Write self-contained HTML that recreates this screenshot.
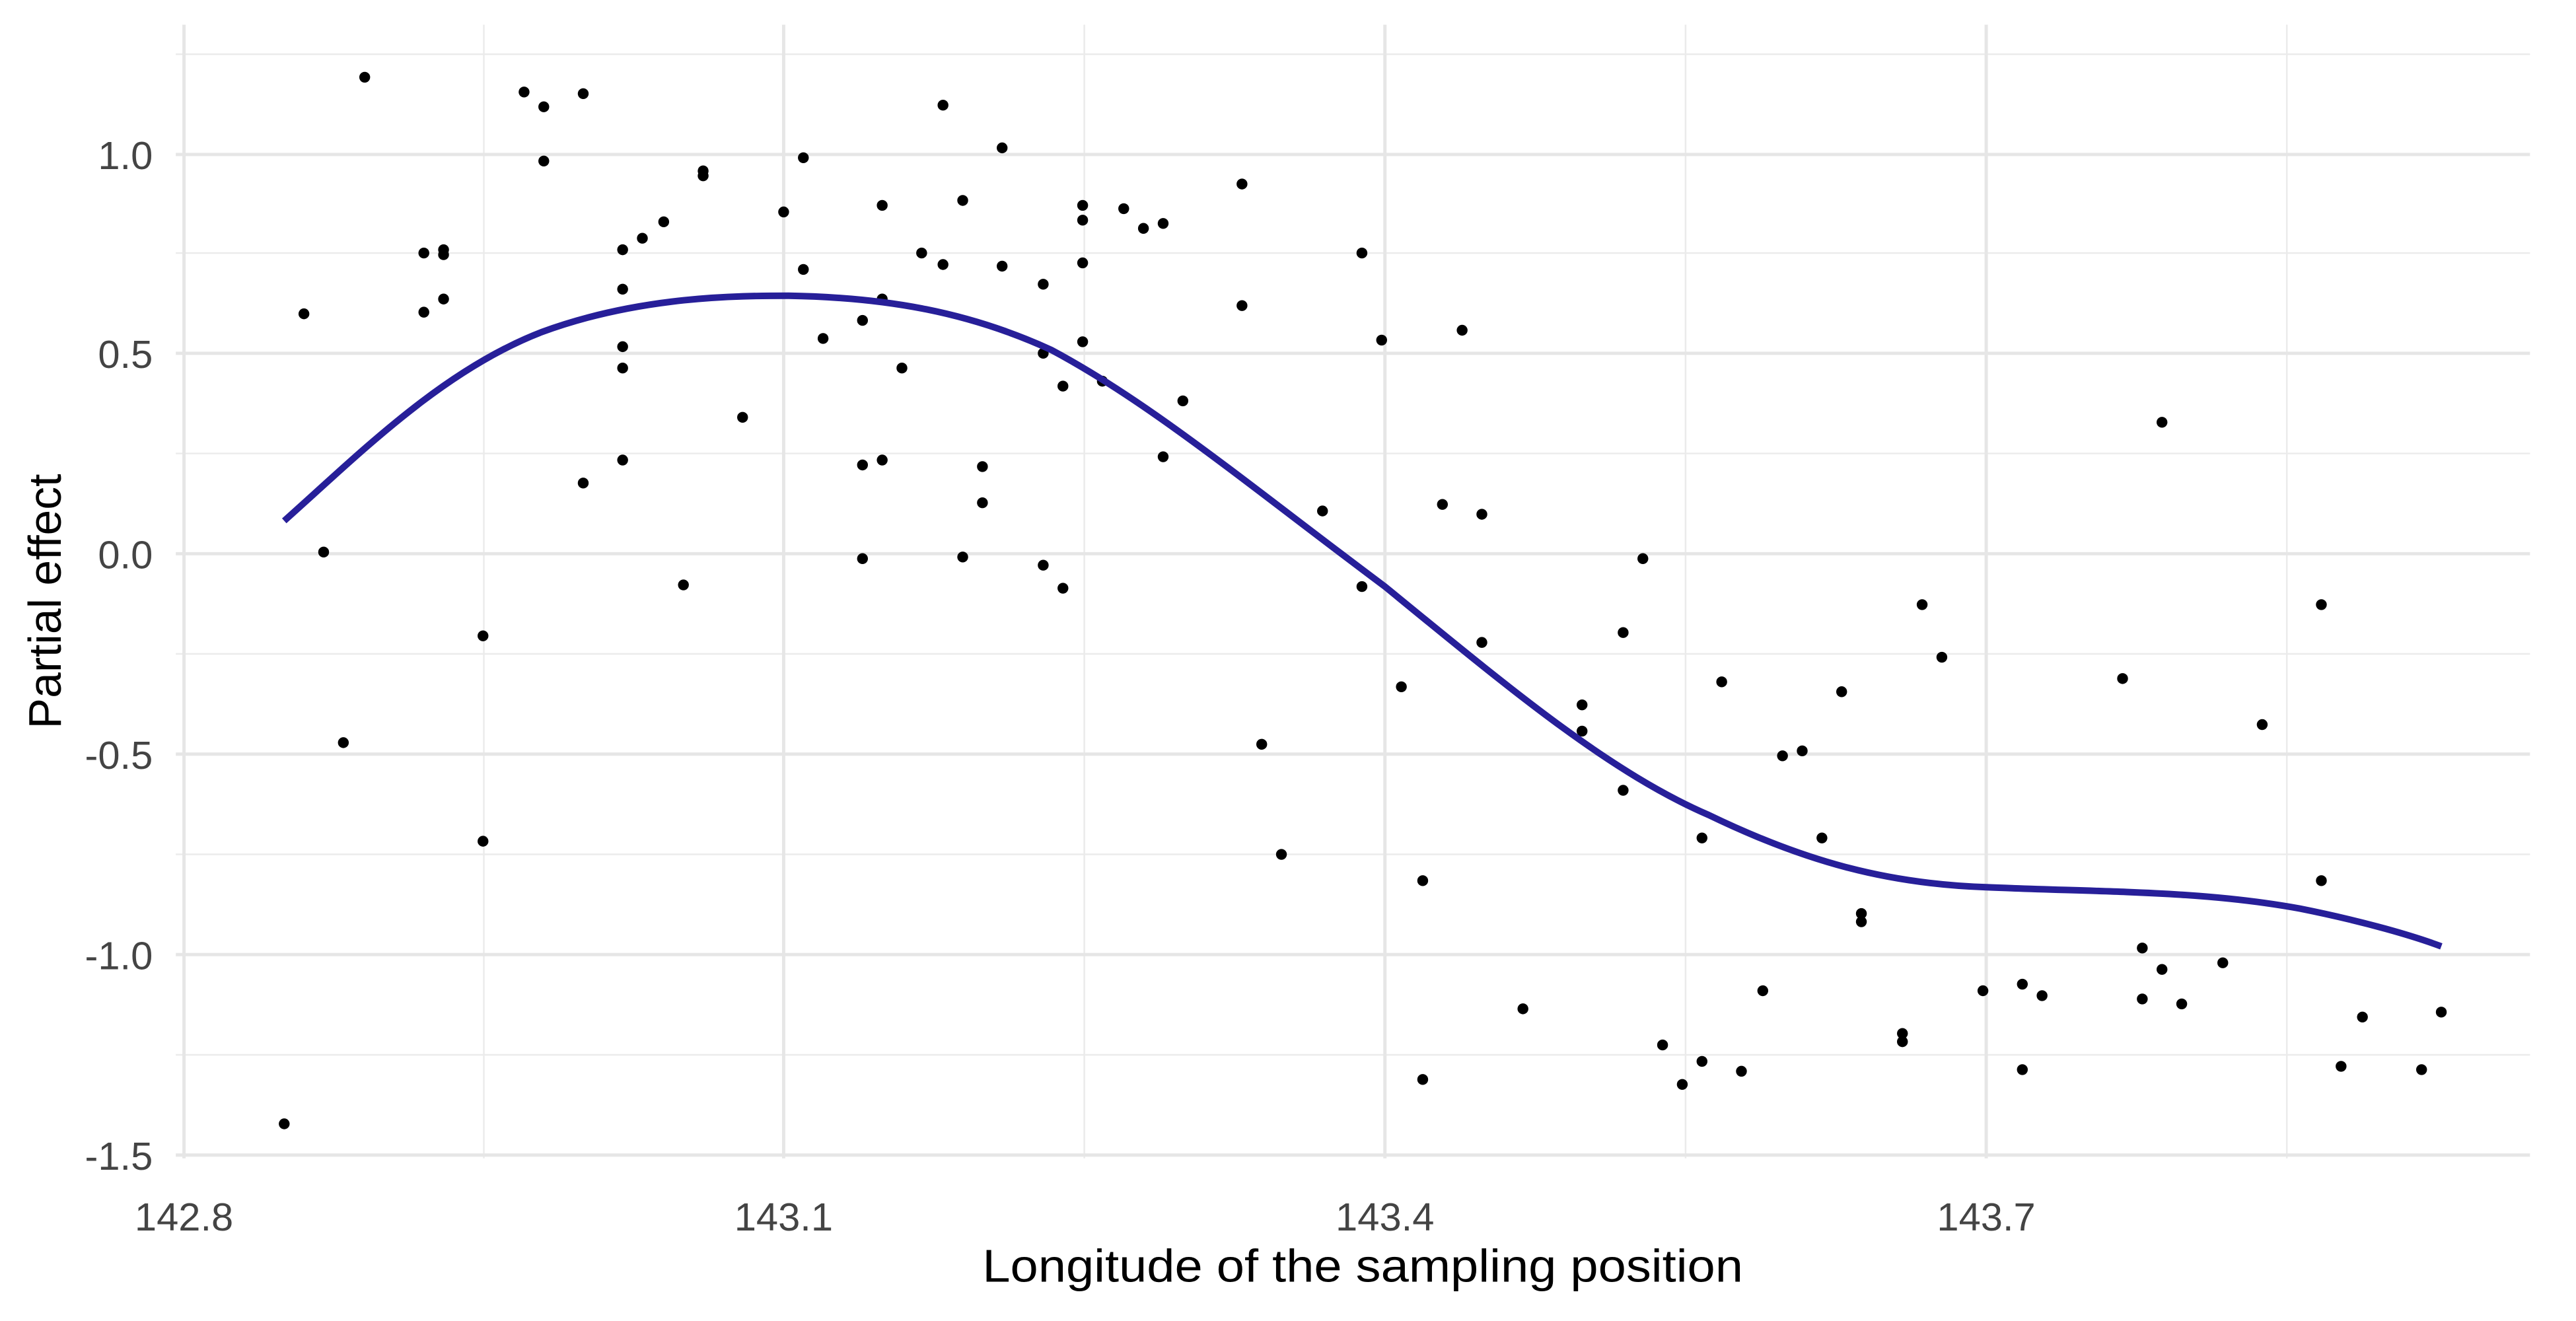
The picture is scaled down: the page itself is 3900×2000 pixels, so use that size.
<!DOCTYPE html>
<html><head><meta charset="utf-8"><style>html,body{margin:0;padding:0;background:#fff}svg{display:block}</style></head>
<body>
<svg width="3900" height="2000" viewBox="0 0 1568 804" preserveAspectRatio="none" xmlns="http://www.w3.org/2000/svg" font-family="Liberation Sans, Arial, sans-serif">
<rect width="1568" height="804" fill="#fff"/>
<g stroke="#ebebeb" stroke-width="1">
<line x1="294.5" y1="15" x2="294.5" y2="705"/><line x1="660" y1="15" x2="660" y2="705"/><line x1="1026" y1="15" x2="1026" y2="705"/><line x1="1392" y1="15" x2="1392" y2="705"/>
<line x1="107" y1="33" x2="1540" y2="33"/><line x1="107" y1="154" x2="1540" y2="154"/><line x1="107" y1="276" x2="1540" y2="276"/><line x1="107" y1="398" x2="1540" y2="398"/><line x1="107" y1="520" x2="1540" y2="520"/><line x1="107" y1="642" x2="1540" y2="642"/>
</g>
<g stroke="#e6e6e6" stroke-width="2">
<line x1="112" y1="15" x2="112" y2="705"/><line x1="477" y1="15" x2="477" y2="705"/><line x1="843" y1="15" x2="843" y2="705"/><line x1="1209" y1="15" x2="1209" y2="705"/>
<line x1="107" y1="94" x2="1540" y2="94"/><line x1="107" y1="215" x2="1540" y2="215"/><line x1="107" y1="337" x2="1540" y2="337"/><line x1="107" y1="459" x2="1540" y2="459"/><line x1="107" y1="581" x2="1540" y2="581"/><line x1="107" y1="703" x2="1540" y2="703"/>
</g>
<g fill="#000">
<circle cx="222" cy="47" r="3.3"/><circle cx="319" cy="56" r="3.3"/><circle cx="331" cy="65" r="3.3"/><circle cx="355" cy="57" r="3.3"/><circle cx="331" cy="98" r="3.3"/><circle cx="185" cy="191" r="3.3"/><circle cx="258" cy="154" r="3.3"/><circle cx="258" cy="190" r="3.3"/><circle cx="270" cy="152" r="3.3"/><circle cx="270" cy="155" r="3.3"/><circle cx="270" cy="182" r="3.3"/><circle cx="379" cy="152" r="3.3"/><circle cx="391" cy="145" r="3.3"/><circle cx="404" cy="135" r="3.3"/><circle cx="428" cy="104" r="3.3"/><circle cx="428" cy="107" r="3.3"/><circle cx="379" cy="176" r="3.3"/><circle cx="379" cy="211" r="3.3"/><circle cx="379" cy="224" r="3.3"/><circle cx="355" cy="294" r="3.3"/><circle cx="379" cy="280" r="3.3"/><circle cx="197" cy="336" r="3.3"/><circle cx="209" cy="452" r="3.3"/><circle cx="294" cy="387" r="3.3"/><circle cx="294" cy="512" r="3.3"/><circle cx="416" cy="356" r="3.3"/><circle cx="452" cy="254" r="3.3"/><circle cx="477" cy="129" r="3.3"/><circle cx="489" cy="96" r="3.3"/><circle cx="489" cy="164" r="3.3"/><circle cx="501" cy="206" r="3.3"/><circle cx="574" cy="64" r="3.3"/><circle cx="610" cy="90" r="3.3"/><circle cx="586" cy="122" r="3.3"/><circle cx="537" cy="125" r="3.3"/><circle cx="561" cy="154" r="3.3"/><circle cx="574" cy="161" r="3.3"/><circle cx="610" cy="162" r="3.3"/><circle cx="635" cy="173" r="3.3"/><circle cx="659" cy="125" r="3.3"/><circle cx="659" cy="134" r="3.3"/><circle cx="659" cy="160" r="3.3"/><circle cx="684" cy="127" r="3.3"/><circle cx="696" cy="139" r="3.3"/><circle cx="708" cy="136" r="3.3"/><circle cx="756" cy="112" r="3.3"/><circle cx="756" cy="186" r="3.3"/><circle cx="537" cy="182" r="3.3"/><circle cx="525" cy="195" r="3.3"/><circle cx="549" cy="224" r="3.3"/><circle cx="635" cy="215" r="3.3"/><circle cx="659" cy="208" r="3.3"/><circle cx="647" cy="235" r="3.3"/><circle cx="671" cy="232" r="3.3"/><circle cx="720" cy="244" r="3.3"/><circle cx="708" cy="278" r="3.3"/><circle cx="598" cy="284" r="3.3"/><circle cx="598" cy="306" r="3.3"/><circle cx="537" cy="280" r="3.3"/><circle cx="525" cy="283" r="3.3"/><circle cx="525" cy="340" r="3.3"/><circle cx="586" cy="339" r="3.3"/><circle cx="635" cy="344" r="3.3"/><circle cx="647" cy="358" r="3.3"/><circle cx="768" cy="453" r="3.3"/><circle cx="780" cy="520" r="3.3"/><circle cx="805" cy="311" r="3.3"/><circle cx="829" cy="154" r="3.3"/><circle cx="841" cy="207" r="3.3"/><circle cx="829" cy="357" r="3.3"/><circle cx="853" cy="418" r="3.3"/><circle cx="866" cy="536" r="3.3"/><circle cx="866" cy="657" r="3.3"/><circle cx="878" cy="307" r="3.3"/><circle cx="890" cy="201" r="3.3"/><circle cx="902" cy="313" r="3.3"/><circle cx="902" cy="391" r="3.3"/><circle cx="927" cy="614" r="3.3"/><circle cx="963" cy="429" r="3.3"/><circle cx="963" cy="445" r="3.3"/><circle cx="988" cy="385" r="3.3"/><circle cx="988" cy="481" r="3.3"/><circle cx="1000" cy="340" r="3.3"/><circle cx="1012" cy="636" r="3.3"/><circle cx="1024" cy="660" r="3.3"/><circle cx="1036" cy="510" r="3.3"/><circle cx="1036" cy="646" r="3.3"/><circle cx="1048" cy="415" r="3.3"/><circle cx="1060" cy="652" r="3.3"/><circle cx="1073" cy="603" r="3.3"/><circle cx="1085" cy="460" r="3.3"/><circle cx="1097" cy="457" r="3.3"/><circle cx="1109" cy="510" r="3.3"/><circle cx="1121" cy="421" r="3.3"/><circle cx="1133" cy="556" r="3.3"/><circle cx="1133" cy="561" r="3.3"/><circle cx="1158" cy="629" r="3.3"/><circle cx="1158" cy="634" r="3.3"/><circle cx="1170" cy="368" r="3.3"/><circle cx="1182" cy="400" r="3.3"/><circle cx="1207" cy="603" r="3.3"/><circle cx="1231" cy="599" r="3.3"/><circle cx="1231" cy="651" r="3.3"/><circle cx="1243" cy="606" r="3.3"/><circle cx="1292" cy="413" r="3.3"/><circle cx="1304" cy="577" r="3.3"/><circle cx="1304" cy="608" r="3.3"/><circle cx="1316" cy="590" r="3.3"/><circle cx="1316" cy="257" r="3.3"/><circle cx="1328" cy="611" r="3.3"/><circle cx="1353" cy="586" r="3.3"/><circle cx="1377" cy="441" r="3.3"/><circle cx="1413" cy="368" r="3.3"/><circle cx="1413" cy="536" r="3.3"/><circle cx="1425" cy="649" r="3.3"/><circle cx="1438" cy="619" r="3.3"/><circle cx="1474" cy="651" r="3.3"/><circle cx="1486" cy="616" r="3.3"/><circle cx="173" cy="684" r="3.3"/>
</g>
<path d="M173,317 C220,275 270,225 330,202 C390,180 450,180 480,180 C540,181 590,190 640,213 C700,245 760,295 843,357 C920,420 980,470 1040,496 C1100,525 1150,538 1209,540 C1280,543 1340,542 1400,553 C1440,561 1470,570 1486,576" fill="none" stroke="#271f99" stroke-width="4" stroke-linejoin="round"/>
<g fill="#444" font-size="24" text-anchor="end">
<text x="93" y="103">1.0</text><text x="93" y="224">0.5</text><text x="93" y="346">0.0</text><text x="93" y="468">-0.5</text><text x="93" y="590">-1.0</text><text x="93" y="712">-1.5</text>
</g>
<g fill="#444" font-size="24" text-anchor="middle">
<text x="112" y="749">142.8</text><text x="477" y="749">143.1</text><text x="843" y="749">143.4</text><text x="1209" y="749">143.7</text>
</g>
<text x="598" y="780" font-size="28" fill="#000" textLength="463" lengthAdjust="spacingAndGlyphs">Longitude of the sampling position</text>
<text transform="translate(37,366) rotate(-90)" font-size="28" fill="#000" text-anchor="middle">Partial effect</text>
</svg>
</body></html>
